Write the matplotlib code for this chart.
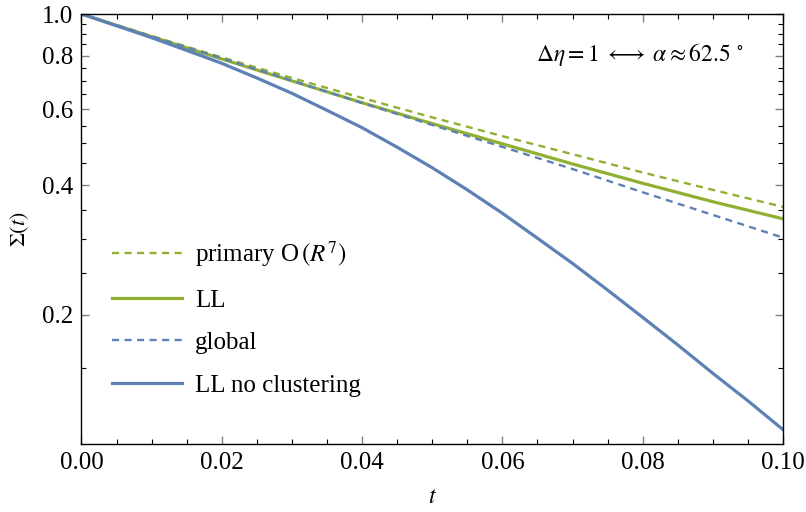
import numpy as np
import matplotlib
matplotlib.use("Agg")
import matplotlib.pyplot as plt
from matplotlib.ticker import FixedLocator, NullFormatter

plt.rcParams['font.family'] = ['Liberation Serif', 'DejaVu Serif']
plt.rcParams['mathtext.fontset'] = 'stix'

# values
t = [0.00, 0.01, 0.02, 0.03, 0.04, 0.05, 0.06, 0.07, 0.08, 0.09, 0.10]
primary = [1.0, 0.889, 0.793, 0.710, 0.638, 0.575, 0.520, 0.472, 0.428, 0.390, 0.356]
ll = [1.0, 0.886, 0.786, 0.699, 0.622, 0.556, 0.499, 0.448, 0.404, 0.366, 0.334]
glob = [1.0, 0.887, 0.789, 0.700, 0.621, 0.552, 0.491, 0.436, 0.385, 0.341, 0.302]

# the no-clustering curve bends more, so it was read at finer steps
t_fine = [0.000, 0.005, 0.010, 0.015, 0.020, 0.025, 0.030, 0.035, 0.040, 0.045, 0.050,
          0.055, 0.060, 0.065, 0.070, 0.075, 0.080, 0.085, 0.090, 0.095, 0.100]
ll_noclust = [1.0, 0.939, 0.881, 0.823, 0.768, 0.710, 0.654, 0.597, 0.544, 0.490, 0.439,
              0.390, 0.344, 0.301, 0.263, 0.228, 0.197, 0.170, 0.146, 0.126, 0.108]

y_major = [0.2, 0.4, 0.6, 0.8, 1.0]
y_major_labels = ["0.2", "0.4", "0.6", "0.8", "1.0"]
x_major = [0.00, 0.02, 0.04, 0.06, 0.08, 0.10]
x_major_labels = ["0.00", "0.02", "0.04", "0.06", "0.08", "0.10"]

green = '#8FB032'
blue = '#5E81B5'

fig = plt.figure(figsize=(8.06, 5.12), dpi=100)
ax = fig.add_axes([0.1011, 0.1328, 0.8704, 0.8398])

ax.plot(t, primary, color=green, lw=1.7, dashes=(3, 2.3), label=r"primary O$\,(R^{7})$")
ax.plot(t, ll, color=green, lw=2.3, label="LL")
ax.plot(t, glob, color=blue, lw=1.7, dashes=(3, 2.3), label="global")
ax.plot(t_fine, ll_noclust, color=blue, lw=2.3, label="LL no clustering")

ax.set_yscale('log')
ax.set_xlim(0, 0.1)
ax.set_ylim(0.1, 1.0)

ax.yaxis.set_major_locator(FixedLocator(y_major))
ax.set_yticklabels(y_major_labels)
minors = [v for v in np.round(np.arange(0.15, 1.0, 0.05), 2) if v not in y_major]
ax.yaxis.set_minor_locator(FixedLocator(minors))
ax.yaxis.set_minor_formatter(NullFormatter())

ax.set_xticks(x_major)
ax.set_xticklabels(x_major_labels)
ax.xaxis.set_minor_locator(FixedLocator(np.arange(0, 0.1001, 0.005)))

ax.tick_params(which='both', direction='in', top=True, right=True, labelsize=18)
ax.tick_params(which='major', length=6, width=1, color='#808080', pad=6)
ax.tick_params(which='minor', length=3.5, width=0.8, color='black')
for s in ax.spines.values():
    s.set_linewidth(1.0)

ax.set_xlabel(r"$t$", fontsize=17, labelpad=9)
ax.set_ylabel(r"$\Sigma(t)$", fontsize=16, labelpad=8)

ax.text(0.943, 0.905, r"$\Delta\eta = 1 \;\longleftrightarrow\; \alpha \approx 62.5\ ^{\circ}$",
        transform=ax.transAxes, ha='right', va='center', fontsize=17)

ax.legend(loc='upper left', bbox_to_anchor=(0.0114, 0.5286), frameon=False, fontsize=18,
          handlelength=2.8, handletextpad=0.52, labelspacing=0.8, borderaxespad=0.5)

fig.savefig("out.png", dpi=100)
